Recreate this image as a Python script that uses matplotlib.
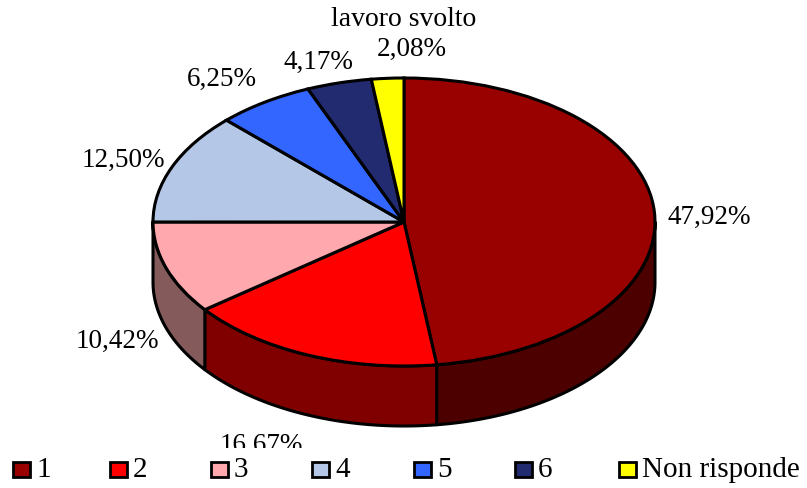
import matplotlib
matplotlib.use("Agg")
import matplotlib.pyplot as plt
import numpy as np
from matplotlib.patches import Rectangle

plt.rcParams['font.family'] = ['Liberation Serif', 'DejaVu Serif']

title = "lavoro svolto"
categories = ['1', '2', '3', '4', '5', '6', 'Non risponde']
values = [47.92, 16.67, 10.42, 12.50, 6.25, 4.17, 2.08]
value_labels = ['47,92%', '16,67%', '10,42%', '12,50%', '6,25%', '4,17%', '2,08%']
top_colors = ['#990000', '#ff0000', '#ffa8ad', '#b4c7e7', '#3366ff', '#222a70', '#ffff00']
side_colors = ['#4d0000', '#800000', '#845a5a', '#5a6474', '#1a3380', '#111538', '#808000']

W, H = 807, 488
cx, cy, rx, ry, depth = 404, 222, 251, 144, 60
edge = 'black'
lw = 2.2

fig = plt.figure(figsize=(W / 100, H / 100), dpi=100)
ax = fig.add_axes([0, 0, 1, 1])

# top face
ax.pie(values, colors=top_colors, startangle=90, counterclock=False, radius=1,
       wedgeprops={'edgecolor': edge, 'linewidth': lw})
ax.set_aspect('auto')
ax.set_xlim(-cx / rx, (W - cx) / rx)
ax.set_ylim((cy - H) / ry, cy / ry)

# side wall, only the front half of the ellipse shows
d = depth / ry
ends = 90 - np.cumsum(values) * 3.6
starts = np.r_[90, ends[:-1]]
for a0, a1, col in zip(starts, ends, side_colors):
    lo, hi = max(a1, -180), min(a0, 0)
    if lo >= hi:
        continue
    t = np.radians(np.linspace(hi, lo, 80))
    x = np.cos(t)
    y = np.sin(t)
    ax.fill(np.r_[x, x[::-1]], np.r_[y, y[::-1] - d], facecolor=col, edgecolor=edge,
            linewidth=lw, joinstyle='round', zorder=0.5)


def put(x, y, s, size=19.5, **kw):
    return fig.text(x / W, 1 - y / H, s, fontsize=size, color='black', **kw)


put(404, 26, title, size=20, ha='center', va='baseline')

label_xy = [(667, 224), (220, 452), (76, 348), (82, 167), (187, 86), (284, 69), (377, 56)]
for (x, y), s in zip(label_xy, value_labels):
    put(x, y, s, ha='left', va='baseline')

# white legend strip cuts the lower label off, as in the original
fig.add_artist(Rectangle((0, 0), 1, 1 - 448 / H, transform=fig.transFigure,
                         facecolor='white', edgecolor='none', zorder=5))

swatch_x = [13, 110, 211, 312, 414, 515, 619]
for x, s, col in zip(swatch_x, categories, top_colors):
    fig.add_artist(Rectangle((x / W, 1 - 477 / H), 17 / W, 15 / H, transform=fig.transFigure,
                             facecolor=col, edgecolor=edge, linewidth=2, zorder=6))
    fig.text((x + 23) / W, 1 - 477 / H, s, fontsize=21, ha='left', va='baseline', zorder=6)

fig.savefig('out.png', dpi=100)
